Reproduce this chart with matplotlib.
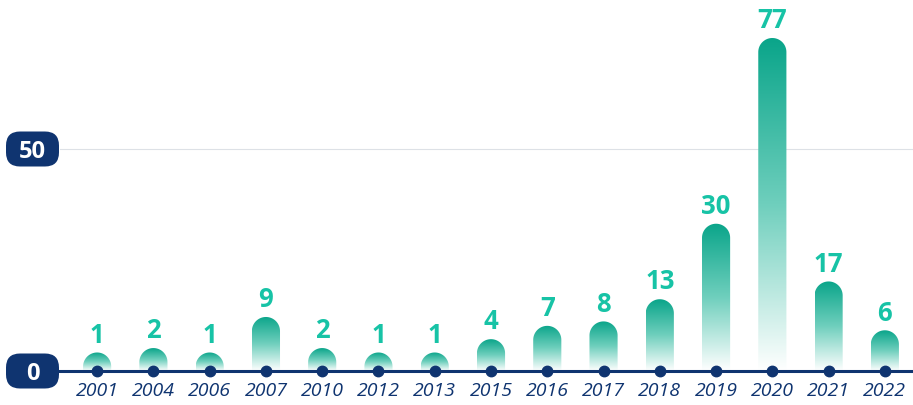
import matplotlib.pyplot as plt
import numpy as np
from matplotlib.colors import LinearSegmentedColormap
from matplotlib.patches import FancyBboxPatch, PathPatch
from matplotlib.path import Path
from matplotlib.transforms import IdentityTransform

years = ["2001", "2004", "2006", "2007", "2010", "2012", "2013", "2015",
         "2016", "2017", "2018", "2019", "2020", "2021", "2022"]
counts = [1, 2, 1, 9, 2, 1, 1, 4, 7, 8, 13, 30, 77, 17, 6]
y_ticks = [0, 50]
y_top = 75

navy = "#0f3470"
teal = "#0aa58a"
label_teal = "#17c3a6"

fig = plt.figure(figsize=(9.13, 4.05), dpi=100)
ax = fig.add_axes([60 / 913, 34 / 405, 853 / 913, 333 / 405])
ax.set_xlim(-0.66, 14.5)
ax.set_ylim(0, y_top)

# circular cap: half bar width expressed in y data units
half_w = 0.25
px_x = ax.get_position().width * 913 / (14.5 + 0.66)
px_y = ax.get_position().height * 405 / y_top
ry = half_w * px_x / px_y

cmap = LinearSegmentedColormap.from_list("fade", ["#ffffff", "#6fcfbd", teal])
grad = np.linspace(0, 1, 256).reshape(-1, 1)

for i, v in enumerate(counts):
    top = min(v + ry, y_top)
    base = top - ry
    x0, x1 = i - half_w, i + half_w
    ang = np.linspace(np.pi, 0, 40)
    verts = [(x0, 0), (x0, base)]
    verts += list(zip(i + half_w * np.cos(ang), base + ry * np.sin(ang)))
    verts += [(x1, 0), (x0, 0)]
    codes = [Path.MOVETO] + [Path.LINETO] * (len(verts) - 2) + [Path.CLOSEPOLY]
    patch = PathPatch(Path(verts, codes), facecolor="none", edgecolor="none",
                      transform=ax.transData)
    ax.add_patch(patch)
    im = ax.imshow(grad, extent=[x0, x1, 0, top], origin="lower", cmap=cmap,
                   aspect="auto", zorder=2)
    im.set_clip_path(patch)
    ax.annotate(str(v), (i, top), xytext=(0, 7), textcoords="offset points",
                ha="center", va="baseline", fontsize=18.5, fontweight="bold",
                color=label_teal, family="Open Sans",
                annotation_clip=False)

ax.set_xlim(-0.66, 14.5)
ax.set_ylim(0, y_top)

ax.set_yticks(y_ticks)
ax.set_yticklabels([])
ax.grid(axis="y", color="#dde1e6", lw=0.8, zorder=0)
ax.set_xticks(range(len(years)), years, fontstyle="italic", fontsize=14,
              color=navy, family="Open Sans")
ax.tick_params(length=0, pad=8)
for s in ax.spines.values():
    s.set_visible(False)

ax.axhline(0, color=navy, lw=2.2, zorder=4, clip_on=False)
ax.plot(range(len(years)), [0] * len(years), "o", color=navy, ms=7.5,
        zorder=5, clip_on=False)

for t in y_ticks:
    yc = ax.transData.transform((0, t))[1]
    box = FancyBboxPatch((6, yc - 17.5), 53, 35,
                         boxstyle="round,pad=0,rounding_size=14",
                         facecolor=navy, edgecolor="none",
                         transform=IdentityTransform())
    fig.add_artist(box)
    fig.text(32.5, yc, str(t), transform=IdentityTransform(), ha="center",
             va="center_baseline", color="white", fontsize=17,
             fontweight="bold", family="Open Sans")

fig.savefig("out.png", dpi=100)
